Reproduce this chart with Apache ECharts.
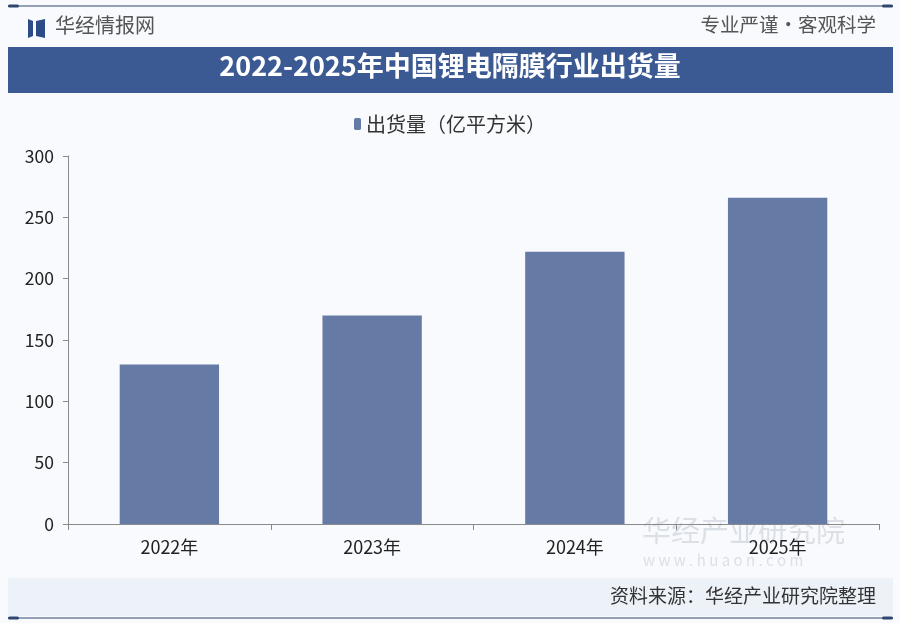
<!DOCTYPE html>
<html>
<head>
<meta charset="utf-8">
<script src="https://cdn.jsdelivr.net/npm/echarts@6/dist/echarts.min.js"></script>
<style>
html,body{margin:0;padding:0;background:#f7f9fc;}
#chart{width:900px;height:623px;}
</style>
</head>
<body>
<div id="chart"></div>
<script>
const categories = ['2022年', '2023年', '2024年', '2025年'];
const shipments = [130, 170, 222, 266];
const seriesName = '出货量（亿平方米）';
const titleText = '2022-2025年中国锂电隔膜行业出货量';
const sourceText = '资料来源：华经产业研究院整理';

const chart = echarts.init(document.getElementById('chart'));
const font = '"Noto Sans CJK SC", "Noto Sans", sans-serif';
const navy = '#3b5a93';

chart.setOption({
  backgroundColor: '#f8fafd',
  animation: false,
  textStyle: { fontFamily: font },
  legend: {
    data: [seriesName],
    top: 109,
    left: 'center',
    itemWidth: 7,
    itemHeight: 12,
    itemGap: 4,
    textStyle: { fontSize: 20, color: '#333', fontFamily: font }
  },
  grid: { left: 68, right: 21, top: 156, bottom: 99, containLabel: false },
  xAxis: {
    type: 'category',
    data: categories,
    axisLine: { lineStyle: { color: '#8a8a8a', width: 1 } },
    axisTick: { show: true, length: 6, lineStyle: { color: '#8a8a8a' } },
    axisLabel: { fontSize: 18, color: '#222', margin: 14 }
  },
  yAxis: {
    type: 'value',
    min: 0, max: 300, interval: 50,
    axisLine: { show: true, lineStyle: { color: '#8a8a8a', width: 1 } },
    axisTick: { show: true, length: 5, lineStyle: { color: '#8a8a8a' } },
    splitLine: { show: false },
    axisLabel: { fontSize: 17.5, color: '#222', margin: 14 }
  },
  series: [{
    name: seriesName,
    type: 'bar',
    z: 100,
    data: shipments,
    barWidth: '49%',
    itemStyle: { color: '#657aa4' }
  }],
  graphic: [
    { type: 'line', shape: { x1: 8, y1: 6, x2: 893, y2: 6 }, style: { stroke: '#2e4670', lineWidth: 1.2 } },
    { type: 'rect', shape: { x: 8, y: 4.5, width: 11, height: 3, r: 1.5 }, style: { fill: '#2e4670' } },
    { type: 'rect', shape: { x: 882, y: 4.5, width: 11, height: 3, r: 1.5 }, style: { fill: '#2e4670' } },
    // logo
    { type: 'polygon', shape: { points: [[28,19],[33,21],[33,36],[28,38]] }, style: { fill: '#2d4b86' } },
    { type: 'polygon', shape: { points: [[36,21],[45,19],[45,38],[36,36]] }, style: { fill: '#2d4b86' } },
    { type: 'text', left: 55, top: 15, style: { text: '华经情报网', font: '20px ' + font, fill: '#555' } },
    { type: 'text', right: 24, top: 15, style: { text: '专业严谨•客观科学', font: '19.5px ' + font, fill: '#555', textAlign: 'right' } },
    // title banner
    { type: 'rect', shape: { x: 8, y: 47, width: 885, height: 46 }, style: { fill: navy } },
    { type: 'text', left: 'center', top: 52, style: { text: titleText, font: 'bold 27px ' + font, fill: '#ffffff' } },
    // watermark
    { type: 'text', left: 642, top: 516, style: { text: '华经产业研究院', font: '29px ' + font, fill: 'rgba(120,130,150,0.22)' } },
    { type: 'text', left: 643, top: 553, style: { text: 'w w w . h u a o n . c o m', font: '15px ' + font, fill: 'rgba(120,130,150,0.22)' } },
    // footer
    { type: 'rect', shape: { x: 8, y: 578, width: 885, height: 38 }, style: { fill: '#edf1f8' } },
    { type: 'text', right: 24, top: 586, style: { text: sourceText, font: '19px ' + font, fill: '#333', textAlign: 'right' } },
    { type: 'line', shape: { x1: 8, y1: 618, x2: 893, y2: 618 }, style: { stroke: '#2e4670', lineWidth: 1.2 } },
    { type: 'rect', shape: { x: 8, y: 616.5, width: 11, height: 3, r: 1.5 }, style: { fill: '#2e4670' } },
    { type: 'rect', shape: { x: 882, y: 616.5, width: 11, height: 3, r: 1.5 }, style: { fill: '#2e4670' } }
  ]
});
</script>
</body>
</html>
